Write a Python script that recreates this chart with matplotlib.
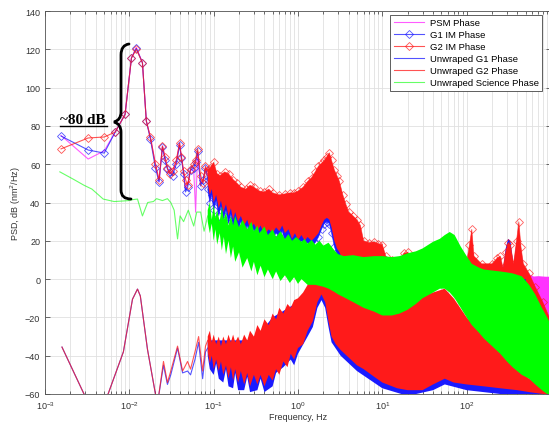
import matplotlib
matplotlib.use('Agg')
import matplotlib.pyplot as plt
from matplotlib.path import Path
from matplotlib.patches import PathPatch
from matplotlib.lines import Line2D

plt.rcParams['font.family'] = ['Liberation Sans', 'DejaVu Sans']

# --- IM phase, low-frequency bins (Hz, dB) ---
f_im = [0.00155, 0.00325, 0.00504, 0.0068, 0.0089, 0.0106, 0.0121, 0.0143, 0.0159, 0.0178,
        0.0204, 0.0225, 0.0247, 0.0265, 0.0283, 0.030, 0.0325, 0.036, 0.0394, 0.0415,
        0.044, 0.0464, 0.049, 0.0532, 0.058, 0.0611, 0.0645, 0.07, 0.075, 0.080, 0.085]
g2_im = [68, 73.7, 74.2, 76.8, 86, 115.5, 120, 113, 82.6, 74,
         60, 52, 69.5, 64, 58, 55, 56.4, 62, 71, 64,
         56.4, 52, 49, 57.5, 60, 62, 68, 54, 50, 59, 56]
g1_im = [74.7, 67.4, 65.8, 76.8, 86, 115.5, 120.5, 113, 82.6, 73,
         58, 50.7, 69, 62, 57.5, 56, 54, 60, 70, 63,
         55, 45.5, 48, 57, 58, 61, 67, 48.6, 52, 58, 52]
psm = [75, 62.7, 67, 76.8, 86, 115.5, 121, 113, 82.6, 74,
       60, 51, 69.5, 63, 58, 55, 56, 61, 71, 63,
       56, 47, 49, 57, 57, 35, 66, 50, 51, 58, 54]

# --- IM phase, dense part: upper / lower edges of the spectrum ---
f_im_top = [0.085, 0.09, 0.1, 0.11, 0.12, 0.135, 0.15, 0.17, 0.19, 0.21,
            0.24, 0.27, 0.3, 0.35, 0.4, 0.45, 0.5, 0.6, 0.7, 0.8,
            0.9, 1.0, 1.15, 1.3, 1.45, 1.6, 1.75, 1.9, 2.05, 2.2,
            2.35, 2.5, 2.7, 2.9, 3.1, 3.4, 3.7, 4.0, 4.5, 5.0,
            5.5, 6.0, 7.0, 8.0, 9.0, 10.0, 11.0, 13, 16, 18,
            20, 23, 30, 50, 80, 100, 108, 115, 122, 150,
            200, 230, 250, 270, 290, 310, 330, 360, 390, 416,
            440, 470, 550, 650, 800, 1000]
g2_top = [57, 58, 61, 55, 54, 56, 55, 52, 50, 48,
          47, 49, 48, 46, 45.5, 47, 45, 44, 44.5, 45,
          45, 46, 48, 51, 53, 56, 59, 60.5, 62, 64,
          66, 62, 57, 54, 51, 44, 39, 35, 33, 31,
          28, 20, 19, 19.5, 18.5, 18, 12, 10, 10, 13.5,
          14, 10, 9, 10, 10, 9, 18, 26, 12, 8,
          8, 11, 12, 6, 14, 19, 18, 8, 20, 30,
          17, 8, 3, -4, -12, -22]
g1_top = [55, 56, 59, 53, 52, 54, 53, 50, 48, 46,
          45, 47, 46, 44, 43.5, 45, 43, 42, 42.5, 43,
          43, 44, 46, 49, 51, 54, 57, 58.5, 60, 62,
          64, 60, 55, 52, 49, 42, 37, 33, 31, 29,
          26, 19, 18, 18.5, 17.5, 17, 11, 9, 9, 12.5,
          13, 9, 8, 9, 9, 8, 15, 20, 10, 7,
          7, 10, 11, 5, 16, 21, 20, 7, 19, 22,
          15, 7, 2, -5, -13, -23]
f_im_bot = [0.085, 0.09, 0.095, 0.1, 0.107, 0.115, 0.122, 0.13, 0.14, 0.15,
            0.16, 0.17, 0.18, 0.195, 0.21, 0.23, 0.25, 0.27, 0.3, 0.33,
            0.36, 0.4, 0.45, 0.5, 0.55, 0.6, 0.65, 0.7, 0.77, 0.85,
            0.92, 1.0, 1.1, 1.2, 1.3, 1.45, 1.6, 1.75, 1.9, 2.05,
            2.2, 2.35, 2.5, 2.7, 2.9, 3.1, 3.4, 4, 5, 10,
            11, 500, 550, 1000]
g2_bot = [50, 44, 47, 40, 44, 37, 41, 35, 39, 33,
          37, 31, 35, 30, 33, 28, 31, 26, 29, 25,
          28, 23, 26, 24, 27, 25, 28, 24, 26, 21,
          24, 20.5, 23, 20, 22, 20, 22, 24, 28, 31,
          32, 31, 27, 20, 16, 14, 10, 6, 5, 5,
          0, 0, -10, -40]
g1_bot = [47, 40, 44, 36, 41, 33, 38, 31, 36, 29,
          34, 27, 32, 26, 30, 24, 28, 22, 26, 21,
          25, 19, 23, 21, 24, 22, 25, 20, 23, 18,
          21, 17.5, 20, 17, 19, 17, 19, 22, 26, 29,
          30, 29, 24, 17, 13, 11, 8, 4, 3, 3,
          -2, -2, -12, -42]
f_psm_hi = [540, 580, 620, 700, 850, 1000]
psm_hi_top = [3, 2, 1.6, 1.8, 1.5, 1.5]
psm_hi_bot = [-60, -60, -60, -60, -60, -60]

# --- unwrapped G1/G2 phase, low-frequency bins ---
f_unw = [0.00159, 0.0029, 0.004, 0.0056, 0.0085, 0.0109, 0.0125, 0.0135, 0.0164, 0.0204,
         0.0221, 0.0254, 0.0283, 0.031, 0.0373, 0.0428, 0.049, 0.0532, 0.06, 0.0663,
         0.074, 0.08, 0.085]
g2_unw = [-35.5, -60, -66, -60, -38, -10.5, -5.2, -8.8, -36.6, -60,
          -62, -43, -54, -48, -35, -48, -43, -47, -38, -30,
          -48, -35, -32]
g1_unw = [-35.5, -60, -66, -60, -38, -10.5, -5.2, -8.8, -36.6, -60,
          -62, -45, -55, -50, -36, -49, -48, -50, -42, -33,
          -52, -38, -36]

# --- unwrapped G1/G2 phase, dense part ---
f_unw_top = [0.085, 0.09, 0.095, 0.1, 0.107, 0.115, 0.122, 0.13, 0.14, 0.15,
             0.16, 0.17, 0.18, 0.195, 0.21, 0.23, 0.25, 0.27, 0.3, 0.33,
             0.36, 0.4, 0.45, 0.5, 0.55, 0.6, 0.67, 0.75, 0.82, 0.9,
             1.0, 1.15, 1.3, 1.5, 1.7, 1.9, 2.1, 2.3, 2.5, 2.8,
             3.2, 4, 5, 6, 8, 10, 15, 20, 30, 40,
             55, 70, 100, 160, 250, 400, 550, 800, 1000]
g2_unw_top = [-30, -27, -33, -29, -34, -30, -35, -30, -34, -29,
              -33, -29, -33, -30, -34, -29, -32, -27, -30, -24,
              -27, -21, -24, -18, -21, -15, -18, -13, -15, -11,
              -10, -7, -3, 0, 3, 5, 5.5, 4, 0, -3,
              -5, -7, -9, -10, -13, -15, -14, -12, -9, -7,
              -5, -10, -20, -30, -38, -46, -52, -57, -60]
f_unw_bot = f_unw_top
g2_unw_bot = [-38, -44, -40, -47, -42, -48, -43, -50, -45, -52,
              -46, -53, -47, -54, -48, -55, -49, -56, -50, -55,
              -50, -56, -50, -53, -47, -50, -43, -46, -39, -42,
              -36, -34, -27, -22, -12, -8, -12, -22, -30, -34,
              -37, -41, -45, -47, -51, -54, -57, -58, -58, -55,
              -52, -54, -55, -56, -57, -58, -59, -60, -60]
f_g1u_top = [0.085, 0.3, 0.5, 1.0, 1.5, 1.9, 2.3, 3, 10, 55,
             100, 250, 550, 1000]
g1_unw_top = [-32, -32, -20, -12, -2, 3, 2, -6, -17, -7,
              -22, -40, -54, -62]
f_g1u_bot = [0.085, 0.09, 0.1, 0.107, 0.115, 0.13, 0.14, 0.15, 0.17, 0.18,
             0.195, 0.23, 0.25, 0.27, 0.33, 0.36, 0.4, 0.5, 0.55, 0.67,
             0.82, 0.9, 1.0, 1.3, 1.5, 1.7, 1.9, 2.1, 2.3, 2.5,
             3.2, 5, 10, 20, 40, 55, 100, 250, 1000]
g1_unw_bot = [-40, -47, -50, -44, -52, -54, -47, -56, -57, -49,
              -58, -58, -51, -59, -58, -52, -59, -56, -49, -46,
              -42, -45, -39, -30, -25, -15, -11, -15, -25, -33,
              -40, -48, -57, -61, -58, -55, -58, -60, -62]

# --- unwrapped science phase ---
f_sci = [0.0015, 0.0022, 0.0029, 0.0036, 0.0049, 0.0066, 0.0085, 0.0098, 0.011, 0.0125,
         0.0143, 0.0165, 0.0193, 0.021, 0.0247, 0.0283, 0.031, 0.034, 0.0373, 0.040,
         0.044, 0.05, 0.058, 0.063, 0.07, 0.077, 0.085]
sci = [56, 52, 49, 47, 41.8, 40.5, 40.8, 41, 41.5, 41.8,
       33, 40, 40.5, 42, 41, 42, 40, 36, 21, 33,
       30, 36, 27.7, 35, 35, 25, 33]
f_sci_top = [0.085, 0.09, 0.095, 0.1, 0.105, 0.11, 0.118, 0.125, 0.132, 0.14,
             0.15, 0.16, 0.17, 0.18, 0.2, 0.22, 0.25, 0.28, 0.3, 0.33,
             0.35, 0.4, 0.44, 0.5, 0.55, 0.62, 0.7, 0.77, 0.85, 0.95,
             1.1, 1.2, 1.3, 1.45, 1.6, 1.8, 2.0, 2.3, 2.7, 3.0,
             3.5, 4.5, 6, 8, 10, 13, 16, 20, 25, 30,
             40, 48, 55, 63, 72, 85, 100, 115, 140, 160,
             200, 250, 300, 350, 450, 550, 650, 780, 900, 1000]
sci_top = [36, 40, 31, 39, 32, 36, 30, 38, 31, 35,
           28, 33, 28, 33, 27, 31, 26, 30, 25, 28,
           24, 27.5, 23, 26, 22, 25, 21, 23.5, 20, 22,
           19.5, 21, 18.5, 20.5, 18, 20, 17.5, 19, 15, 13,
           12, 12.5, 11.5, 12, 12, 11.5, 12, 13.5, 14.5, 16,
           19.5, 21, 23, 24.6, 23, 17, 12, 8, 6, 5,
           4.5, 4, 3.5, 3, 1.5, -3, -8, -15, -20, -24]
f_sci_bot = [0.085, 0.09, 0.095, 0.1, 0.105, 0.11, 0.118, 0.125, 0.132, 0.14,
             0.15, 0.16, 0.17, 0.18, 0.2, 0.22, 0.25, 0.28, 0.3, 0.33,
             0.36, 0.4, 0.44, 0.5, 0.55, 0.62, 0.7, 0.8, 0.9, 1.0,
             1.1, 1.3, 1.6, 2.0, 2.3, 2.7, 3.0, 3.5, 4.5, 6,
             8, 10, 13, 16, 20, 25, 30, 40, 48, 55,
             63, 72, 85, 100, 115, 140, 160, 200, 250, 300,
             350, 450, 550, 650, 780, 900, 1000]
sci_bot = [30, 24, 29, 20, 26, 18, 24, 15, 22, 13,
           20, 11, 17, 9, 14, 6, 11, 4, 9, 2,
           7, 1, 5, 0, 4, -1, 2, -2, 1, -2.5,
           0, -3, -3, -4, -5, -6.7, -8, -9.5, -12, -15,
           -17, -19, -19, -18, -16, -13, -10, -7, -5, -5,
           -7, -10, -15, -20, -24, -28, -31, -35, -39, -43,
           -46, -50, -52, -55, -58, -60, -61]

RED = '#ff1a1a'
BLUE = '#1a1aff'
MAG = '#ff33ff'
GREEN = '#00ff00'


def band(ax, f_hi, hi, f_lo, lo, color, z):
    xs = list(f_hi) + list(f_lo)[::-1]
    ys = list(hi) + list(lo)[::-1]
    ax.fill(xs, ys, color=color, lw=0, zorder=z)


fig = plt.figure(figsize=(5.49, 4.27), dpi=100)
ax = fig.add_axes([45/549, 32/427, 506/549, 383/427])

mk = dict(marker='D', ms=4, mfc='none', mew=0.6)

# PSM
ax.plot(f_im, psm, color=MAG, lw=0.8, alpha=0.8, zorder=2, label='PSM Phase')
ax.fill_between(f_psm_hi, psm_hi_bot, psm_hi_top, color=MAG, lw=0, zorder=2)

# G1 / G2 IM phase
ax.plot(f_im, g1_im, color=BLUE, lw=0.8, alpha=0.75, zorder=3, label='G1 IM Phase', **mk)
band(ax, f_im_top, g1_top, f_im_bot, g1_bot, BLUE, 3)
ax.plot(f_im_bot, g1_bot, color=BLUE, lw=0.5, alpha=0.7, zorder=3, **mk)
ax.plot(f_im, g2_im, color=RED, lw=0.8, alpha=0.75, zorder=4, label='G2 IM Phase', **mk)
band(ax, f_im_top, g2_top, f_im_bot, g2_bot, RED, 4)
ax.plot(f_im_top, g2_top, color=RED, lw=0.5, alpha=0.7, zorder=4, **mk)

# unwrapped G1 / G2
ax.plot(f_unw, g1_unw, color=BLUE, lw=0.8, alpha=0.75, zorder=5, label='Unwraped G1 Phase')
band(ax, f_g1u_top, g1_unw_top, f_g1u_bot, g1_unw_bot, BLUE, 5)
ax.plot(f_unw, g2_unw, color=RED, lw=0.8, alpha=0.75, zorder=6, label='Unwraped G2 Phase')
band(ax, f_unw_top, g2_unw_top, f_unw_bot, g2_unw_bot, RED, 6)

# unwrapped science
ax.plot(f_sci, sci, color=GREEN, lw=0.8, alpha=0.6, zorder=7, label='Unwraped Science Phase')
band(ax, f_sci_top, sci_top, f_sci_bot, sci_bot, GREEN, 7)

ax.set_xscale('log')
ax.set_xlim(1e-3, 1e3)
ax.set_ylim(-60, 140)
ax.set_yticks(range(-60, 141, 20))
ax.set_xticks([1e-3, 1e-2, 1e-1, 1e0, 1e1, 1e2])
ax.grid(True, which='both', axis='x', color='#e0e0e0', lw=0.6, zorder=0)
ax.grid(True, which='major', axis='y', color='#e0e0e0', lw=0.6, zorder=0)
ax.tick_params(which='both', direction='in', top=True, right=True, labelsize=6.5,
               colors='#333333', width=0.5)
ax.tick_params(which='major', length=3.5)
ax.tick_params(which='minor', length=2)
for s in ax.spines.values():
    s.set_color('#555555')
    s.set_linewidth(0.6)
ax.set_xlabel('Frequency, Hz', fontsize=6.5, color='#333333', labelpad=1)
ax.set_ylabel('PSD, dB (nm$^2$/Hz)', fontsize=6.5, color='#333333', labelpad=1)

leg = ax.legend(loc='upper right', bbox_to_anchor=(0.982, 0.99), fontsize=6.8,
                frameon=True, fancybox=False, edgecolor='#444444', framealpha=1,
                borderaxespad=0, handlelength=3.2, labelspacing=0.32, borderpad=0.35,
                handletextpad=0.6)
leg.get_frame().set_linewidth(0.6)
leg.set_zorder(20)

# ~80 dB annotation with brace
W, H = 549.0, 427.0
fig.text(60/W, 1 - 124/H, '~80 dB', fontfamily='Liberation Serif', fontweight='bold',
         fontsize=11, va='baseline', ha='left', color='black')
fig.add_artist(Line2D([60/W, 107/W], [1 - 126.5/H] * 2, color='black', lw=1.0))
pts = [(129, 45), (121, 46), (121, 56), (121, 113), (121, 121), (114, 123),
       (121, 125), (121, 133), (121, 191), (121, 200), (131, 200)]
codes = [Path.MOVETO, Path.CURVE3, Path.CURVE3, Path.LINETO, Path.CURVE3, Path.CURVE3,
         Path.CURVE3, Path.CURVE3, Path.LINETO, Path.CURVE3, Path.CURVE3]
brace = Path([(x / W, 1 - y / H) for x, y in pts], codes)
fig.add_artist(PathPatch(brace, transform=fig.transFigure, fill=False, lw=2.0,
                         edgecolor='black', capstyle='round'))

fig.savefig('out.png', dpi=100)
